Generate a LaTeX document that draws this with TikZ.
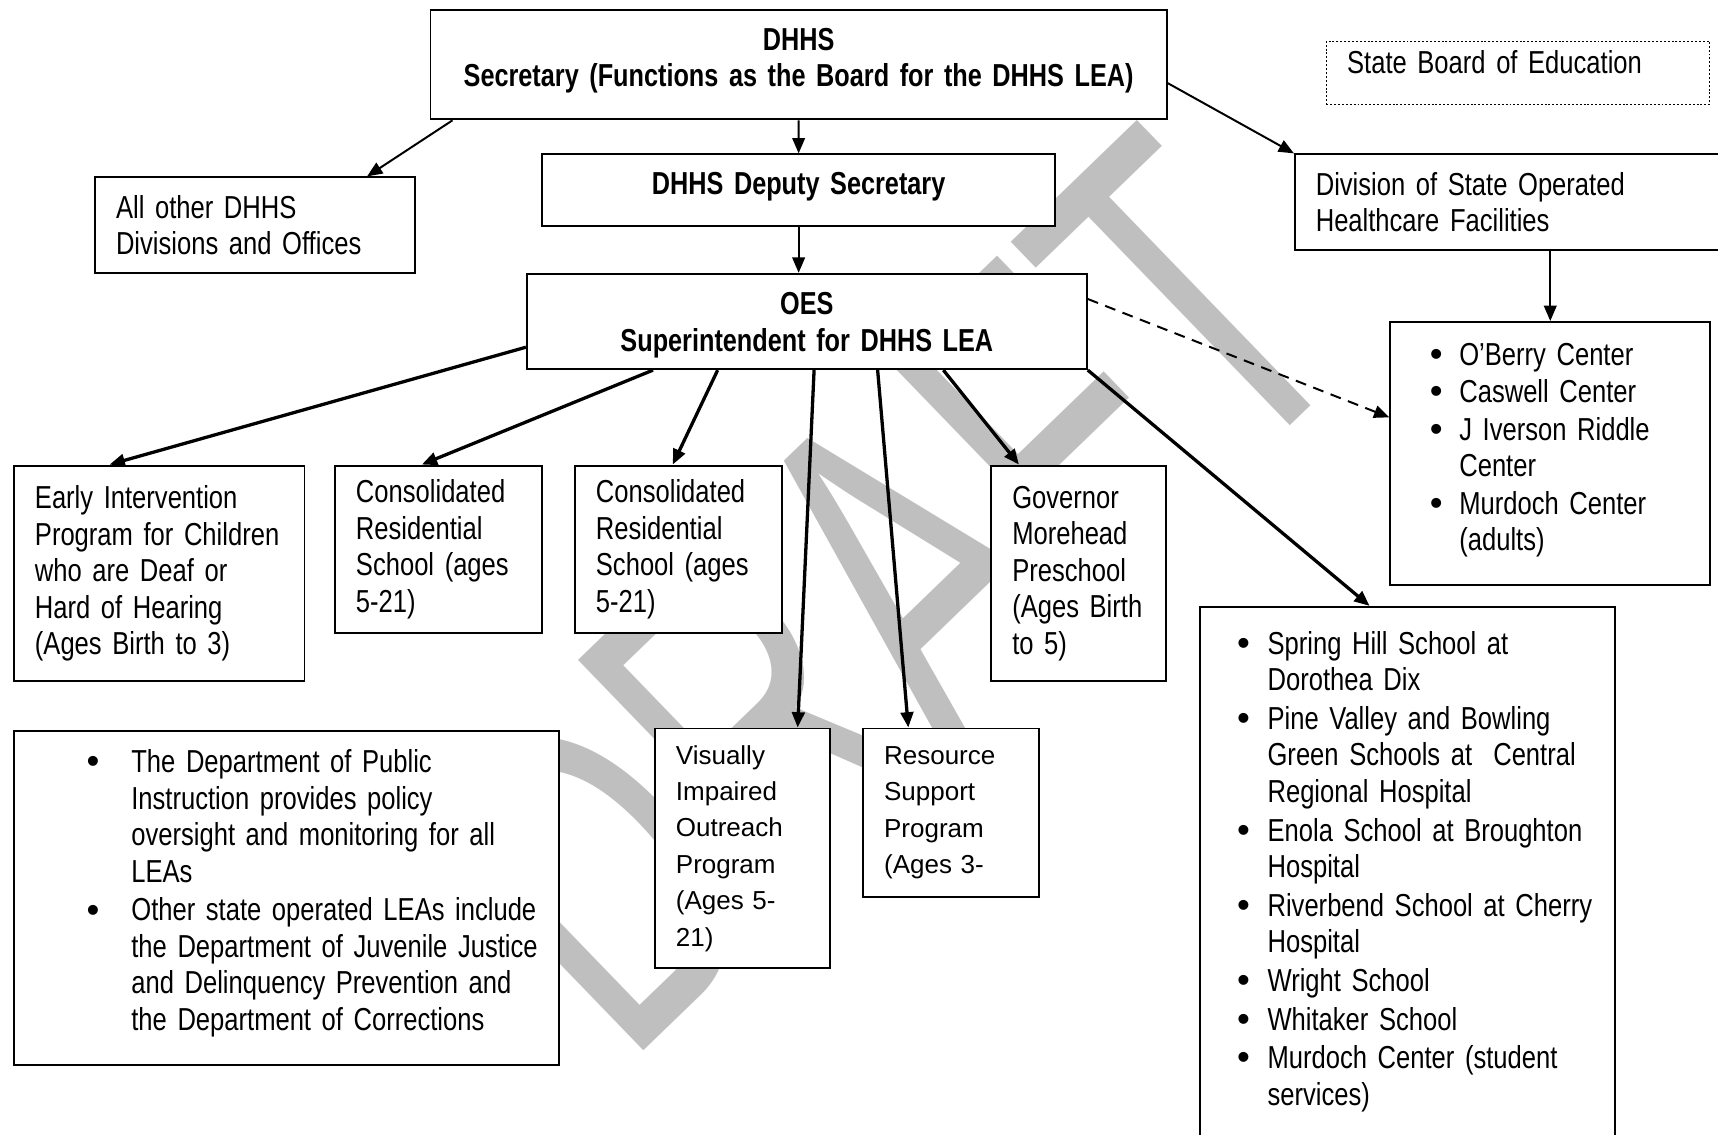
\documentclass[tikz,border=0pt]{standalone}
\usepackage{fontspec}
\setmainfont{Liberation Sans}[FakeStretch=0.805, BoldFeatures={FakeStretch=0.795}]
\newfontfamily\widefont{Liberation Sans}
\usetikzlibrary{arrows.meta}

\newcommand{\chartsize}{\fontsize{16.5pt}{18.95pt}\selectfont}
\newcommand{\chartbold}{\fontsize{16.5pt}{18.95pt}\bfseries\selectfont}
\newcommand{\plainsize}{\widefont\fontsize{13.5pt}{18.95pt}\selectfont}
\newcommand{\bulletmark}{{\widefont\fontsize{19pt}{19pt}\selectfont\raisebox{-0.2mm}{\textbullet}}}
% bullet centred at #2, item text starting at #1
\newcommand{\dotitem}[2]{\makebox[#1][l]{\hspace*{#2}\makebox[0pt][c]{\bulletmark}}}
\hyphenpenalty=10000

\begin{document}
\begin{tikzpicture}[x=0.2mm, y=-0.2mm,
    unit/.style={draw, line width=0.36mm, fill=white, anchor=north west,
      inner xsep=3.8mm, inner ysep=0pt, align=left, font=\chartsize},
    head/.style={unit, align=center, font=\chartbold},
    listbox/.style={unit, inner xsep=0pt},
    link/.style={line width=0.36mm, -{Triangle[length=2.8mm, width=2.3mm]}},
    branch/.style={link, line width=0.6mm}]

    % page frame
    \useasboundingbox (0,0) rectangle (1568,1035);
    \clip (0,0) rectangle (1568,1035);

    % Watermark
    \begin{scope}[shift={(807,540)}]
        \node[rotate=44, xscale=0.655, text=gray!50, inner sep=0pt,
              font=\widefont\fontsize{246pt}{246pt}\selectfont] (draft) at (0,0) {DRAFT};
    \end{scope}

    % Top level
    \node[head, text width=126.8mm, minimum height=20mm] (top) at (392,8)
        {DHHS\\Secretary (Functions as the Board for the DHHS LEA)\rule[-2.6mm]{0pt}{0pt}};
    \node[unit, densely dotted, line width=0.2mm, text width=62.4mm,
          minimum height=11.6mm, text depth=4mm] (board) at (1210,37) {State Board of Education};
    \node[unit, text width=50.8mm, minimum height=17.4mm] (other) at (86,161)
        {All other DHHS\\Divisions and Offices};
    \node[head, text width=86mm, minimum height=13mm, text depth=2.4mm] (deputy) at (494,140) {DHHS Deputy Secretary};
    \node[unit, text width=70.6mm, minimum height=17.4mm] (division) at (1181,140)
        {Division of State Operated\\Healthcare Facilities};
    \node[head, text width=94.6mm, minimum height=17.4mm] (oes) at (480,249)
        {\rule{0pt}{5.4mm}OES\\Superintendent for DHHS LEA};

    % Facilities
    \node[listbox, text width=58.4mm, minimum height=48mm] (centers) at (1268,293) {%
        \dotitem{12.6mm}{8.4mm}O’Berry Center\\[0.2mm]
        \dotitem{12.6mm}{8.4mm}Caswell Center\\[0.2mm]
        \dotitem{12.6mm}{8.4mm}J Iverson Riddle\\
        \hspace*{12.6mm}Center\\[0.2mm]
        \dotitem{12.6mm}{8.4mm}Murdoch Center\\
        \hspace*{12.6mm}(adults)\rule[-2.4mm]{0pt}{0pt}};

    % Programs
    \node[unit, text width=45.4mm, minimum height=39.4mm] (early) at (12,424)
        {Early Intervention\\Program for Children\\who are Deaf or\\Hard of Hearing\\(Ages Birth to 3)};
    \node[unit, text width=30.2mm, minimum height=30.6mm] (crsA) at (305,424)
        {Consolidated\\Residential\\School (ages\\5-21)};
    \node[unit, text width=30.2mm, minimum height=30.6mm] (crsB) at (524,424)
        {Consolidated\\Residential\\School (ages\\5-21)};
    \node[unit, text width=24.2mm, minimum height=39.4mm] (gmp) at (904,424)
        {Governor\\Morehead\\Preschool\\(Ages Birth\\to 5)};
    \node[unit, font=\plainsize, text width=24.4mm, minimum height=43.8mm] (vip) at (597,664)
        {Visually\\Impaired\\Outreach\\Program\\(Ages 5-\\21)};
    \node[unit, font=\plainsize, text width=24.4mm, minimum height=30.8mm] (rsp) at (787,664)
        {Resource\\Support\\Program\\(Ages 3-};

    % Hospital schools
    \node[listbox, text width=75.8mm, minimum height=96.6mm] (hosp) at (1094,553) {%
        \dotitem{12.4mm}{8mm}Spring Hill School at\\
        \hspace*{12.4mm}Dorothea Dix\\[0.4mm]
        \dotitem{12.4mm}{8mm}Pine Valley and Bowling\\
        \hspace*{12.4mm}Green Schools at\ \ Central\\
        \hspace*{12.4mm}Regional Hospital\\[0.4mm]
        \dotitem{12.4mm}{8mm}Enola School at Broughton\\
        \hspace*{12.4mm}Hospital\\[0.4mm]
        \dotitem{12.4mm}{8mm}Riverbend School at Cherry\\
        \hspace*{12.4mm}Hospital\\[0.4mm]
        \dotitem{12.4mm}{8mm}Wright School\\[0.4mm]
        \dotitem{12.4mm}{8mm}Whitaker School\\[0.4mm]
        \dotitem{12.4mm}{8mm}Murdoch Center (student\\
        \hspace*{12.4mm}services)};

    % Note
    \node[listbox, text width=99.4mm, minimum height=61mm] (dpi) at (12,666) {%
        \dotitem{21.4mm}{14.4mm}The Department of Public\\
        \hspace*{21.4mm}Instruction provides policy\\
        \hspace*{21.4mm}oversight and monitoring for all\\
        \hspace*{21.4mm}LEAs\\[0.4mm]
        \dotitem{21.4mm}{14.4mm}Other state operated LEAs include\\
        \hspace*{21.4mm}the Department of Juvenile Justice\\
        \hspace*{21.4mm}and Delinquency Prevention and\\
        \hspace*{21.4mm}the Department of Corrections\rule[-2.8mm]{0pt}{0pt}};

    % Connectors
    \draw[link] ([xshift=4.2mm]top.south west) -- ([xshift=49.8mm]other.north west);
    \draw[link] (top.south) -- (deputy.north);
    \draw[link] ([yshift=-3.4mm]top.east) -- (division.north west);
    \draw[link] (deputy.south) -- (deputy.south |- oes.north);
    \draw[link] (division.south -| centers.north) -- (centers.north);
    \draw[link, dash pattern=on 2mm off 1.4mm] ([yshift=4.1mm]oes.east) -- ([yshift=6.6mm]centers.west);
    \draw[branch] ([yshift=-4.7mm]oes.west) -- ([xshift=17.6mm]early.north west);
    \draw[branch] ([xshift=23.2mm]oes.south west) -- ([xshift=16mm]crsA.north west);
    \draw[branch] ([xshift=35mm]oes.south west) -- ([xshift=18mm]crsB.north west);
    \draw[branch] ([xshift=52.6mm]oes.south west) -- ([xshift=26.2mm]vip.north west);
    \draw[branch] ([xshift=64.2mm]oes.south west) -- ([xshift=8.4mm]rsp.north west);
    \draw[branch] ([xshift=76.2mm]oes.south west) -- ([xshift=5.2mm]gmp.north west);
    \draw[branch] (oes.south east) -- ([xshift=31.2mm]hosp.north west);

\end{tikzpicture}
\end{document}
